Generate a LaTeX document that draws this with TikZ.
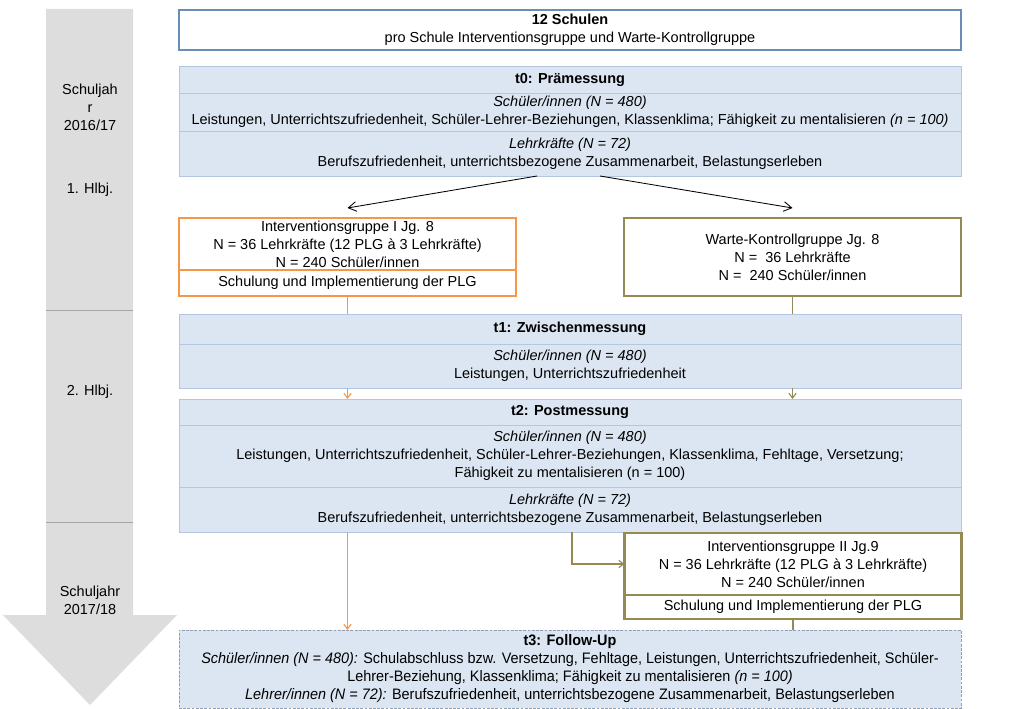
\documentclass[tikz,border=0pt]{standalone}
\usepackage{fontspec}
\setmainfont{Liberation Sans}
\newfontfamily\narrowfont[FakeStretch=0.95]{Liberation Sans}
\usetikzlibrary{arrows.meta,positioning}
\definecolor{mfill}{HTML}{DCE6F2}
\definecolor{mline}{HTML}{B4C7E0}
\definecolor{topline}{HTML}{6A8DB8}
\definecolor{igorange}{HTML}{F79646}
\definecolor{igolive}{HTML}{948A54}
\definecolor{timegray}{HTML}{DDDDDD}

\begin{document}
\begin{tikzpicture}[
  font=\fontsize{10.3}{12.8}\selectfont,
  wide/.style={align=center, minimum width=19.55cm, inner sep=0pt, outer sep=0pt},
  titlebox/.style={wide, draw=topline, line width=0.8pt, fill=white, minimum height=1cm},
  mbox/.style={wide, draw=mline, fill=mfill, line width=0.6pt},
  igbox/.style={draw=igorange, line width=1.6pt, fill=white, align=center, minimum width=8.425cm, inner sep=0pt, outer sep=0pt},
  wkbox/.style={igbox, draw=igolive},
  arrow/.style={-{Straight Barb[length=2mm, width=2.4mm]}, semithick},
  orangeline/.style={igorange, line width=0.8pt},
  oliveline/.style={igolive, line width=0.8pt},
  tip/.style={-{Straight Barb[length=1.2mm, width=1.8mm]}}
]
\useasboundingbox (0,0) rectangle (25.6,-17.725);

% time line on the left
\fill[timegray] (1.15,-0.225) -- (3.325,-0.225) -- (3.325,-15.375) -- (4.425,-15.375)
  -- (2.25,-17.625) -- (0.075,-15.375) -- (1.15,-15.375) -- cycle;
\draw[gray!70] (1.15,-7.75) -- (3.325,-7.75);
\draw[gray!70] (1.15,-13.05) -- (3.325,-13.05);
\node[align=center] (jahr1) at (2.25,-2.675) {Schuljah\\r\\2016/17};
\node (hj1) at (2.25,-4.75) {1. Hlbj.};
\node (hj2) at (2.25,-9.8) {2. Hlbj.};
\node[align=center] (jahr2) at (2.25,-15.0) {Schuljahr\\2017/18};

% design
\node[titlebox, anchor=north] (schulen) at (14.25,-0.25) {\textbf{12 Schulen}\\pro Schule Interventionsgruppe und Warte-Kontrollgruppe};

% t0
\node[mbox, anchor=north, minimum height=0.675cm] (t0head) at (14.25,-1.65) {\textbf{t0: Prämessung}};
\node[mbox, below=0pt of t0head, minimum height=0.95cm] (t0sch) {\textit{Schüler/innen (N = 480)}\\Leistungen, Unterrichtszufriedenheit, Schüler-Lehrer-Beziehungen, Klassenklima; Fähigkeit zu mentalisieren \textit{(n = 100)}};
\node[mbox, below=0pt of t0sch, minimum height=1.125cm] (t0leh) {\textit{Lehrkräfte (N = 72)}\\Berufszufriedenheit, unterrichtsbezogene Zusammenarbeit, Belastungserleben};

% groups
\node[igbox, anchor=north, minimum height=1.3cm] (ig1) at (8.6875,-5.45) {Interventionsgruppe I Jg. 8\\N = 36 Lehrkräfte (12 PLG à 3 Lehrkräfte)\\N = 240 Schüler/innen};
\node[igbox, below=0pt of ig1, minimum height=0.65cm] (ig1s) {Schulung und Implementierung der PLG};
\node[wkbox, anchor=north, minimum height=1.95cm] (wk) at (19.8125,-5.45) {Warte-Kontrollgruppe Jg. 8\\N = \ 36 Lehrkräfte\\N = \ 240 Schüler/innen};

% t1
\node[mbox, anchor=north, minimum height=0.75cm] (t1head) at (14.25,-7.85) {\textbf{t1: Zwischenmessung}};
\node[mbox, below=0pt of t1head, minimum height=1.1cm] (t1sch) {\textit{Schüler/innen (N = 480)}\\Leistungen, Unterrichtszufriedenheit};

% t2
\node[mbox, anchor=north, minimum height=0.65cm] (t2head) at (14.25,-9.975) {\textbf{t2: Postmessung}};
\node[mbox, below=0pt of t2head, minimum height=1.55cm] (t2sch) {\textit{Schüler/innen (N = 480)}\\Leistungen, Unterrichtszufriedenheit, Schüler-Lehrer-Beziehungen, Klassenklima, Fehltage, Versetzung;\\Fähigkeit zu mentalisieren (n = 100)};
\node[mbox, below=0pt of t2sch, minimum height=1.125cm] (t2leh) {\textit{Lehrkräfte (N = 72)}\\Berufszufriedenheit, unterrichtsbezogene Zusammenarbeit, Belastungserleben};

% second intervention group
\node[wkbox, anchor=north, minimum height=1.55cm] (ig2) at (19.825,-13.325) {Interventionsgruppe II Jg.9\\N = 36 Lehrkräfte (12 PLG à 3 Lehrkräfte)\\N = 240 Schüler/innen};
\node[wkbox, below=0pt of ig2, minimum height=0.6cm] (ig2s) {Schulung und Implementierung der PLG};

% t3
\node[mbox, anchor=north, minimum height=1.95cm, draw=mline!80!black, dash pattern=on 2pt off 1pt, font=\narrowfont\fontsize{10.8}{12.8}\selectfont] (t3) at (14.25,-15.75) {\textbf{t3: Follow-Up}\\\textit{Schüler/innen (N = 480):} Schulabschluss bzw. Versetzung, Fehltage, Leistungen, Unterrichtszufriedenheit, Schüler-\\Lehrer-Beziehung, Klassenklima; Fähigkeit zu mentalisieren \textit{(n = 100)}\\\textit{Lehrer/innen (N = 72):} Berufszufriedenheit, unterrichtsbezogene Zusammenarbeit, Belastungserleben};

% connectors
\draw[arrow] ([xshift=-0.825cm]t0leh.south) -- ([yshift=0.25cm]ig1.north);
\draw[arrow] ([xshift=0.75cm]t0leh.south) -- ([yshift=0.25cm]wk.north);
\draw[orangeline] (ig1s.south) -- (ig1s.south |- t1head.north);
\draw[oliveline] (wk.south) -- (wk.south |- t1head.north);
\draw[orangeline, tip] (ig1s.south |- t1sch.south) -- (ig1s.south |- t2head.north);
\draw[oliveline, tip] (wk.south |- t1sch.south) -- (wk.south |- t2head.north);
\draw[orangeline, tip] (ig1s.south |- t2leh.south) -- (ig1s.south |- t3.north);
\draw[oliveline, tip] ([xshift=0.05cm]t2leh.south) |- (ig2.west);
\draw[oliveline] (ig2s.south) -- (ig2s.south |- t3.north);
\end{tikzpicture}
\end{document}
